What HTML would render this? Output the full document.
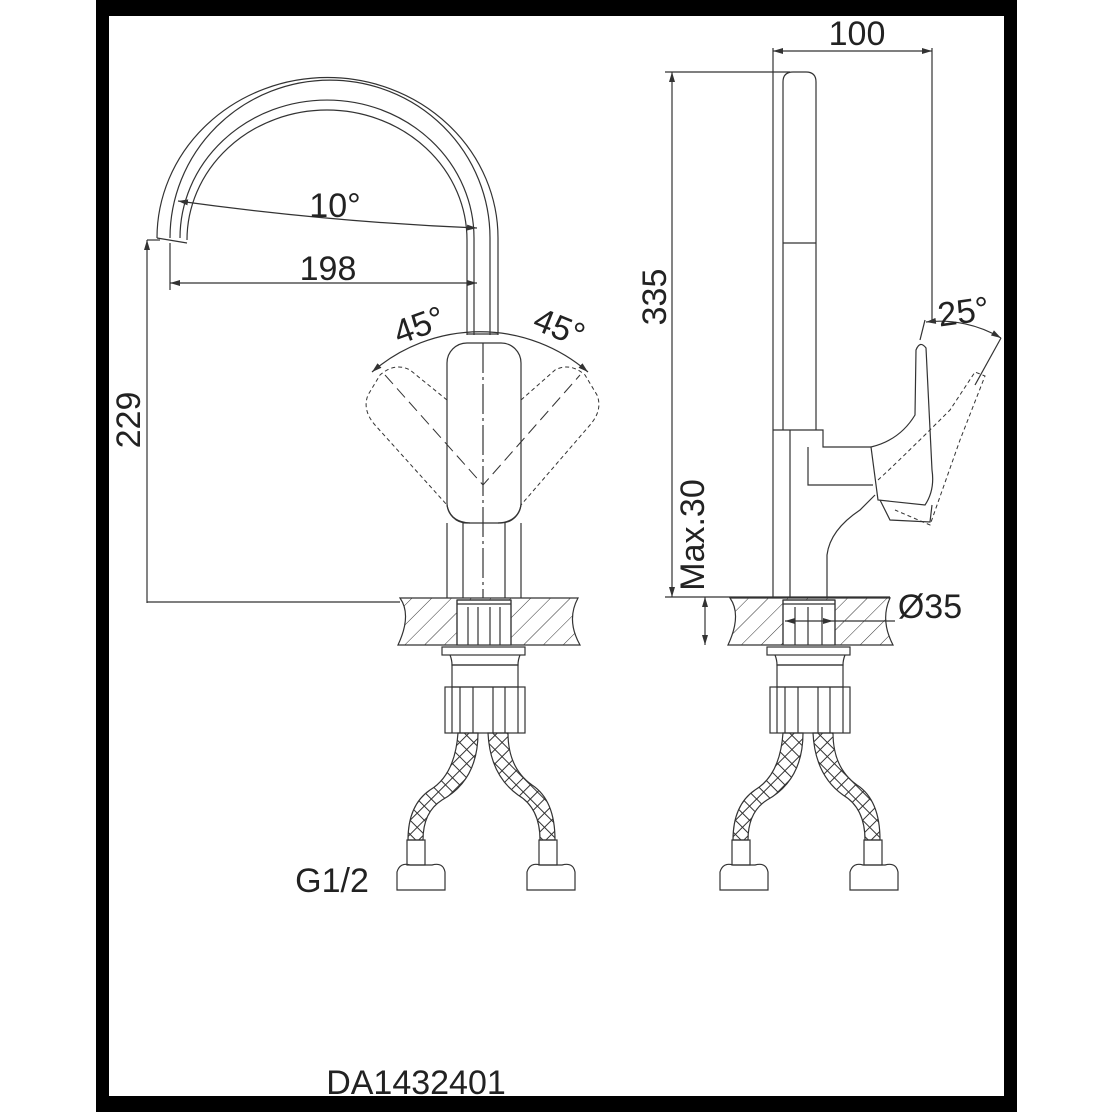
<!DOCTYPE html>
<html><head><meta charset="utf-8"><style>
html,body{margin:0;padding:0;background:#fff;}
svg{display:block;}
text{font-family:"Liberation Sans",sans-serif;fill:#222;}
</style></head><body>
<svg width="1112" height="1112" viewBox="0 0 1112 1112" xmlns="http://www.w3.org/2000/svg">
<defs>
<pattern id="h" width="14" height="14" patternUnits="userSpaceOnUse" patternTransform="rotate(45)">
<line x1="0" y1="0" x2="0" y2="14" stroke="#333" stroke-width="1"/>
</pattern>
<pattern id="mesh" width="10" height="10" patternUnits="userSpaceOnUse" patternTransform="rotate(45)">
<rect width="10" height="10" fill="none" stroke="#333" stroke-width="1"/>
</pattern>
<marker id="a" markerWidth="10" markerHeight="6" refX="10" refY="3" orient="auto-start-reverse" markerUnits="userSpaceOnUse"><path d="M0,0 L10,3 L0,6z" fill="#333"/></marker>
</defs>
<rect x="96" y="0" width="921" height="1112" fill="#000"/>
<rect x="109" y="16" width="895" height="1080" fill="#fff"/>

<g fill="none" stroke="#333" stroke-width="1.2">
<path d="M157,238 A170,160 0 0 1 498,238 L498,335"/>
<path d="M170,238 A152,150 0 0 1 490,238 L490,335"/>
<path d="M180,238 A147,138 0 0 1 474,238 L474,335"/>
<path d="M187,240 A140,130 0 0 1 467,240 L467,335"/>
<path d="M157,238 L187,243"/>
<path d="M178,201 Q330,222 477,228" marker-start="url(#a)" marker-end="url(#a)"/>
<line x1="170" y1="243" x2="170" y2="290"/>
<line x1="170" y1="283" x2="477" y2="283" marker-start="url(#a)" marker-end="url(#a)"/>
<line x1="147" y1="240" x2="160" y2="240"/>
<line x1="147" y1="240" x2="147" y2="603" marker-start="url(#a)"/>
<line x1="147" y1="602" x2="400" y2="602"/>
<path d="M372,372 A165,165 0 0 1 588,372" marker-start="url(#a)" marker-end="url(#a)"/>
<line x1="467" y1="334" x2="498" y2="334"/>
<rect x="447" y="343" width="74" height="180" rx="20"/>
<path d="M447,505 Q450,522 470,523 M521,505 Q518,522 498,523"/>
<line x1="483" y1="343" x2="483" y2="598" stroke-dasharray="30,4,3,4"/>
<g stroke-dasharray="4,3" stroke-width="1">
<path d="M447,400 L410,370 Q395,362 380,375 L368,395 Q362,410 375,425 L447,505"/>
<path d="M521,400 L555,370 Q570,362 585,375 L597,395 Q603,410 590,425 L521,505"/>
<path d="M385,375 L483,485 L580,375" stroke-dasharray="12,6"/>
</g>
<path d="M447,523 L447,598 M521,523 L521,598 M463,523 L463,598 M505,523 L505,598"/>
<path d="M400,598 Q412,615 398,645 L580,645 Q566,620 578,598 Z" fill="url(#h)"/>
<rect x="457" y="600" width="54" height="45" fill="#fff"/>
<path d="M457,600 L511,600 M457,604 L511,604 M457,600 L457,645 M511,600 L511,645 M468,607 L468,645 M478,607 L478,645 M490,607 L490,645 M500,607 L500,645"/>
<rect x="442" y="647" width="83" height="8"/>
<path d="M450,655 Q452,660 452,665 L518,665 Q518,660 520,655"/>
<rect x="452" y="665" width="66" height="22"/>
<rect x="445" y="687" width="80" height="46"/>
<path d="M452,687 L452,733 M518,687 L518,733 M460,687 L460,733 M473,687 L473,733 M493,687 L493,733 M505,687 L505,733"/>
<path d="M458,733 Q455,775 430,790 Q408,805 408,840 L423,840 Q423,812 442,800 Q478,780 478,733 Z" fill="url(#mesh)"/>
<path d="M488,733 Q490,775 518,795 Q540,808 540,840 L555,840 Q555,800 532,785 Q508,768 508,733 Z" fill="url(#mesh)"/>
<rect x="407" y="840" width="18" height="25"/><rect x="539" y="840" width="18" height="25"/>
<path d="M397,872 Q400,862 410,865 L432,865 Q443,862 445,872 L445,890 L397,890 Z"/>
<path d="M527,872 Q530,862 540,865 L562,865 Q573,862 575,872 L575,890 L527,890 Z"/>

<line x1="773" y1="48" x2="773" y2="598"/>
<line x1="932" y1="48" x2="932" y2="320"/>
<line x1="773" y1="51" x2="932" y2="51" marker-start="url(#a)" marker-end="url(#a)"/>
<line x1="665" y1="72" x2="790" y2="72"/>
<path d="M783,430 L783,82 Q783,72 793,72 L806,72 Q816,72 816,82 L816,430"/>
<line x1="783" y1="243" x2="816" y2="243"/>
<line x1="672" y1="72" x2="672" y2="597" marker-start="url(#a)" marker-end="url(#a)"/>
<path d="M773,430 L823,430 L823,447 L871,447"/>
<path d="M790,430 L790,598"/>
<path d="M808,447 L808,485 L873,485"/>
<path d="M827,598 L827,555 Q830,530 860,510 L875,495"/>
<path d="M871,447 Q900,440 915,415 L916,350 Q920,340 926,348 L932,470 Q935,490 925,505 L878,500 Z"/>
<path d="M880,500 L890,520 L930,522 L932,505"/>
<path d="M920,340 L925,320"/>
<g stroke-dasharray="4,3" stroke-width="1">
<path d="M878,480 Q900,460 950,410 L975,372 L985,376 L960,440 L930,525 L895,510"/>
</g>
<path d="M926,322 A120,120 0 0 1 1001,338" marker-start="url(#a)" marker-end="url(#a)"/>
<line x1="1001" y1="338" x2="975" y2="385"/>
<line x1="665" y1="597" x2="890" y2="597"/>
<line x1="705" y1="597" x2="705" y2="645" marker-start="url(#a)" marker-end="url(#a)"/>
<path d="M730,598 Q742,615 728,645 L893,645 Q880,620 890,598 Z" fill="url(#h)"/>
<rect x="783" y="600" width="52" height="45" fill="#fff"/>
<path d="M783,600 L835,600 M783,604 L835,604 M783,600 L783,645 M835,600 L835,645 M795,607 L795,645 M808,607 L808,645 M822,607 L822,645"/>
<line x1="785" y1="621" x2="833" y2="621" marker-start="url(#a)" marker-end="url(#a)"/>
<line x1="833" y1="621" x2="895" y2="621"/>
<rect x="767" y="647" width="83" height="8"/>
<path d="M775,655 Q777,660 777,665 L843,665 Q843,660 845,655"/>
<rect x="777" y="665" width="66" height="22"/>
<rect x="770" y="687" width="80" height="46"/>
<path d="M777,687 L777,733 M843,687 L843,733 M785,687 L785,733 M798,687 L798,733 M818,687 L818,733 M830,687 L830,733"/>
<path d="M783,733 Q780,775 755,790 Q733,805 733,840 L748,840 Q748,812 767,800 Q803,780 803,733 Z" fill="url(#mesh)"/>
<path d="M813,733 Q815,775 843,795 Q865,808 865,840 L880,840 Q880,800 857,785 Q833,768 833,733 Z" fill="url(#mesh)"/>
<rect x="732" y="840" width="18" height="25"/><rect x="864" y="840" width="18" height="25"/>
<path d="M720,872 Q723,862 733,865 L755,865 Q766,862 768,872 L768,890 L720,890 Z"/>
<path d="M850,872 Q853,862 863,865 L885,865 Q896,862 898,872 L898,890 L850,890 Z"/>
</g>

<g font-size="34">
<text x="335" y="217" text-anchor="middle">10°</text>
<text x="328" y="280" text-anchor="middle">198</text>
<text transform="translate(140,420) rotate(-90)" text-anchor="middle">229</text>
<text transform="translate(423,336) rotate(-20)" text-anchor="middle">45°</text>
<text transform="translate(555,338) rotate(22)" text-anchor="middle">45°</text>
<text x="857" y="45" text-anchor="middle">100</text>
<text transform="translate(666,297) rotate(-90)" text-anchor="middle">335</text>
<text transform="translate(704,535) rotate(-90)" text-anchor="middle">Max.30</text>
<text x="965" y="323" text-anchor="middle" transform="rotate(-8 965 323)">25°</text>
<text x="930" y="618" text-anchor="middle">Ø35</text>
<text x="332" y="892" text-anchor="middle">G1/2</text>
<text x="416" y="1094" text-anchor="middle">DA1432401</text>
</g>
</svg>
</body></html>
